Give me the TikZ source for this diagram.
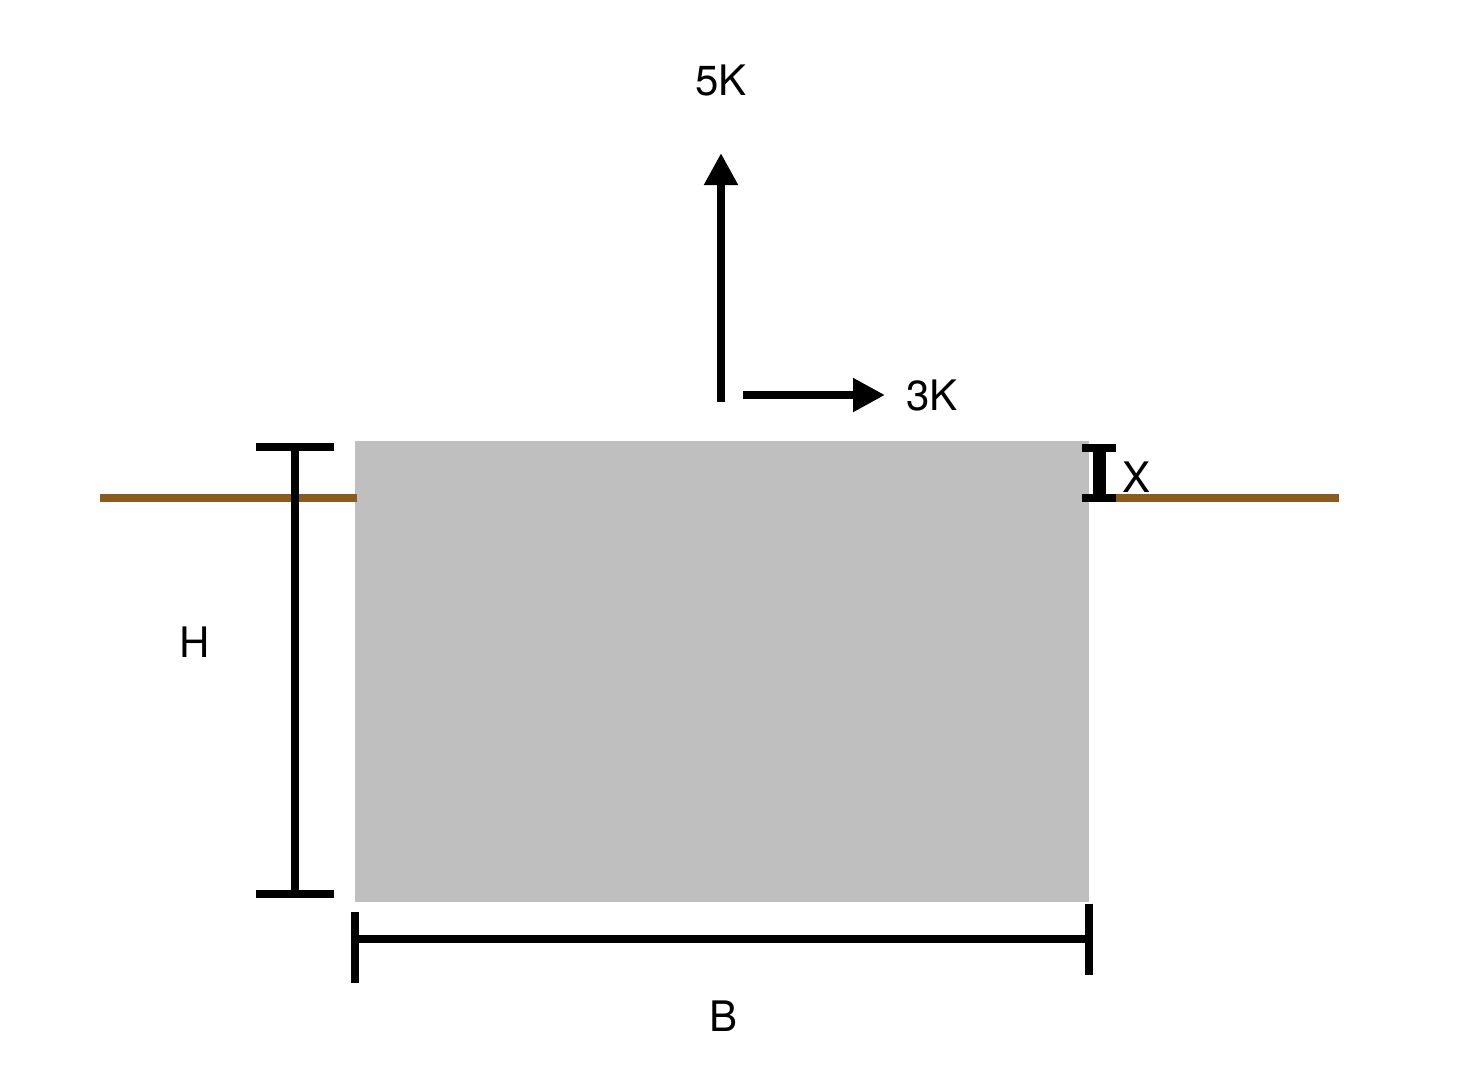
\documentclass[tikz,border=0pt]{standalone}
\usepackage{fontspec}
\setmainfont{TeX Gyre Heros}
\usetikzlibrary{arrows.meta}
\usetikzlibrary{positioning}
\definecolor{soil}{HTML}{8B5A1E}
\definecolor{footing}{HTML}{BFBFBF}
\tikzset{>={Triangle[length=16pt,width=16pt]}, font=\fontsize{21}{21}\selectfont}
\tikzstyle{bar} = [line width=4pt]
\tikzstyle{thickbar} = [line width=6.5pt]
\tikzstyle{ground} = [line width=4pt, draw=soil]
\tikzstyle{dimlabel} = [inner sep=0pt, outer sep=0pt]

\begin{document}
\begin{tikzpicture}[x=0.5pt,y=-0.5pt]
    \useasboundingbox (0,0) rectangle (1464,1084);
    % footing and ground level
    \fill [footing] (355,441) rectangle (1089,902);
    \coordinate (gl_a) at (100,498);
    \coordinate (gl_b) at (357,498);
    \coordinate (gr_a) at (1082,498);
    \coordinate (gr_b) at (1339,498);
    \draw [ground] (gl_a) -- (gl_b);
    \draw [ground] (gr_a) -- (gr_b);

    % loads
    \coordinate (v_start) at (721,402);
    \coordinate (v_tip) at (721,153);
    \coordinate (h_start) at (743,395);
    \coordinate (h_tip) at (885,395);
    \draw [bar,->] (v_start) -- (v_tip);
    \draw [bar,->] (h_start) -- (h_tip);
    \node [dimlabel, above=28.5pt of v_tip] (load_v) {5K};
    \node [dimlabel, right=10.5pt of h_tip] (load_h) {3K};

    % height H
    \coordinate (h_top) at (295,447);
    \coordinate (h_bot) at (295,894);
    \draw [bar] (h_top) -- (h_bot);
    \draw [bar] ([xshift=-19.5pt]h_top) -- ([xshift=19.5pt]h_top);
    \draw [bar] ([xshift=-19.5pt]h_bot) -- ([xshift=19.5pt]h_bot);
    \node [dimlabel] (dim_h) at (195,642) {H};

    % width B
    \coordinate (b_left) at (355,939);
    \coordinate (b_right) at (1089,939);
    \draw [bar] (b_left) -- (b_right);
    \draw [bar] (355,912) -- (355,983);
    \draw [bar] (1089,904) -- (1089,975);
    \node [dimlabel] (dim_b) at (724,1016) {B};

    % embedment X
    \coordinate (x_top) at (1099,448);
    \coordinate (x_bot) at (1099,498);
    \draw [thickbar] (x_top) -- (x_bot);
    \draw [bar] ([xshift=-8.5pt]x_top) -- ([xshift=8.5pt]x_top);
    \draw [bar] ([xshift=-8.5pt]x_bot) -- ([xshift=8.5pt]x_bot);
    \node [dimlabel] (dim_x) at (1136,477) {X};
\end{tikzpicture}
\end{document}
